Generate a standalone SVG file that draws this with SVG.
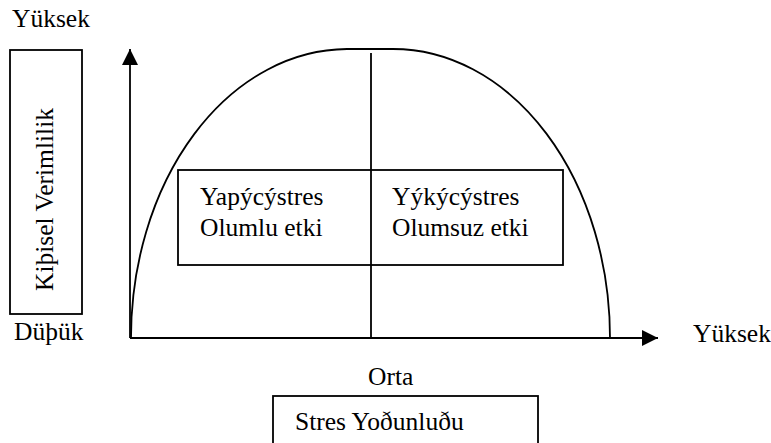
<svg xmlns="http://www.w3.org/2000/svg" width="771" height="443" viewBox="0 0 771 443">
<style>
  text { font-family: "Liberation Serif", "DejaVu Serif", "Times New Roman", Times, serif; font-size: 25.5px; fill: #000; }
  .box { fill: none; stroke: #000; stroke-width: 1.8; }
  .ln { fill: none; stroke: #000; stroke-width: 1.8; }
</style>
<defs>
  <marker id="arr" viewBox="0 0 16 16" refX="16" refY="8" markerWidth="16" markerHeight="16" markerUnits="userSpaceOnUse" orient="auto">
    <path d="M0,0 L16,8 L0,16 Z" fill="#000"/>
  </marker>
</defs>
<rect width="771" height="443" fill="#fff"/>

<g id="connectors">
  <line class="ln" x1="130" y1="338" x2="130" y2="49" marker-end="url(#arr)"/>
  <line class="ln" x1="130" y1="338" x2="658" y2="338" marker-end="url(#arr)"/>
  <path class="ln" d="M131,338 A217,289 0 0 1 347,49 L393,49 A217,289 0 0 1 610,338"/>
  <line class="ln" x1="371" y1="53" x2="371" y2="338"/>
</g>

<g id="label-yuksek-top">
  <text x="12" y="27" font-family="Liberation Serif, serif">Yüksek</text>
</g>

<g id="node-verimlilik">
  <rect class="box" x="10" y="50" width="72" height="264"/>
  <text transform="translate(53,291) rotate(-90)" font-family="Liberation Serif, serif">Kiþisel Verimlilik</text>
</g>

<g id="label-dusuk">
  <text x="14" y="340" font-family="Liberation Serif, serif">Düþük</text>
</g>

<g id="node-effects">
  <rect class="box" x="178" y="170" width="385" height="95"/>
  <text x="200" y="205" font-family="Liberation Serif, serif">Yapýcýstres</text>
  <text x="200" y="236" font-family="Liberation Serif, serif">Olumlu etki</text>
  <text x="392" y="205" font-family="Liberation Serif, serif">Yýkýcýstres</text>
  <text x="392" y="236" font-family="Liberation Serif, serif">Olumsuz etki</text>
</g>

<g id="label-yuksek-right">
  <text x="693" y="342" font-family="Liberation Serif, serif">Yüksek</text>
</g>

<g id="label-orta">
  <text x="368" y="385" font-family="Liberation Serif, serif">Orta</text>
</g>

<g id="node-stres">
  <rect class="box" x="273" y="396" width="265" height="52"/>
  <text x="295" y="430" font-family="Liberation Serif, serif">Stres Yoðunluðu</text>
</g>
</svg>
